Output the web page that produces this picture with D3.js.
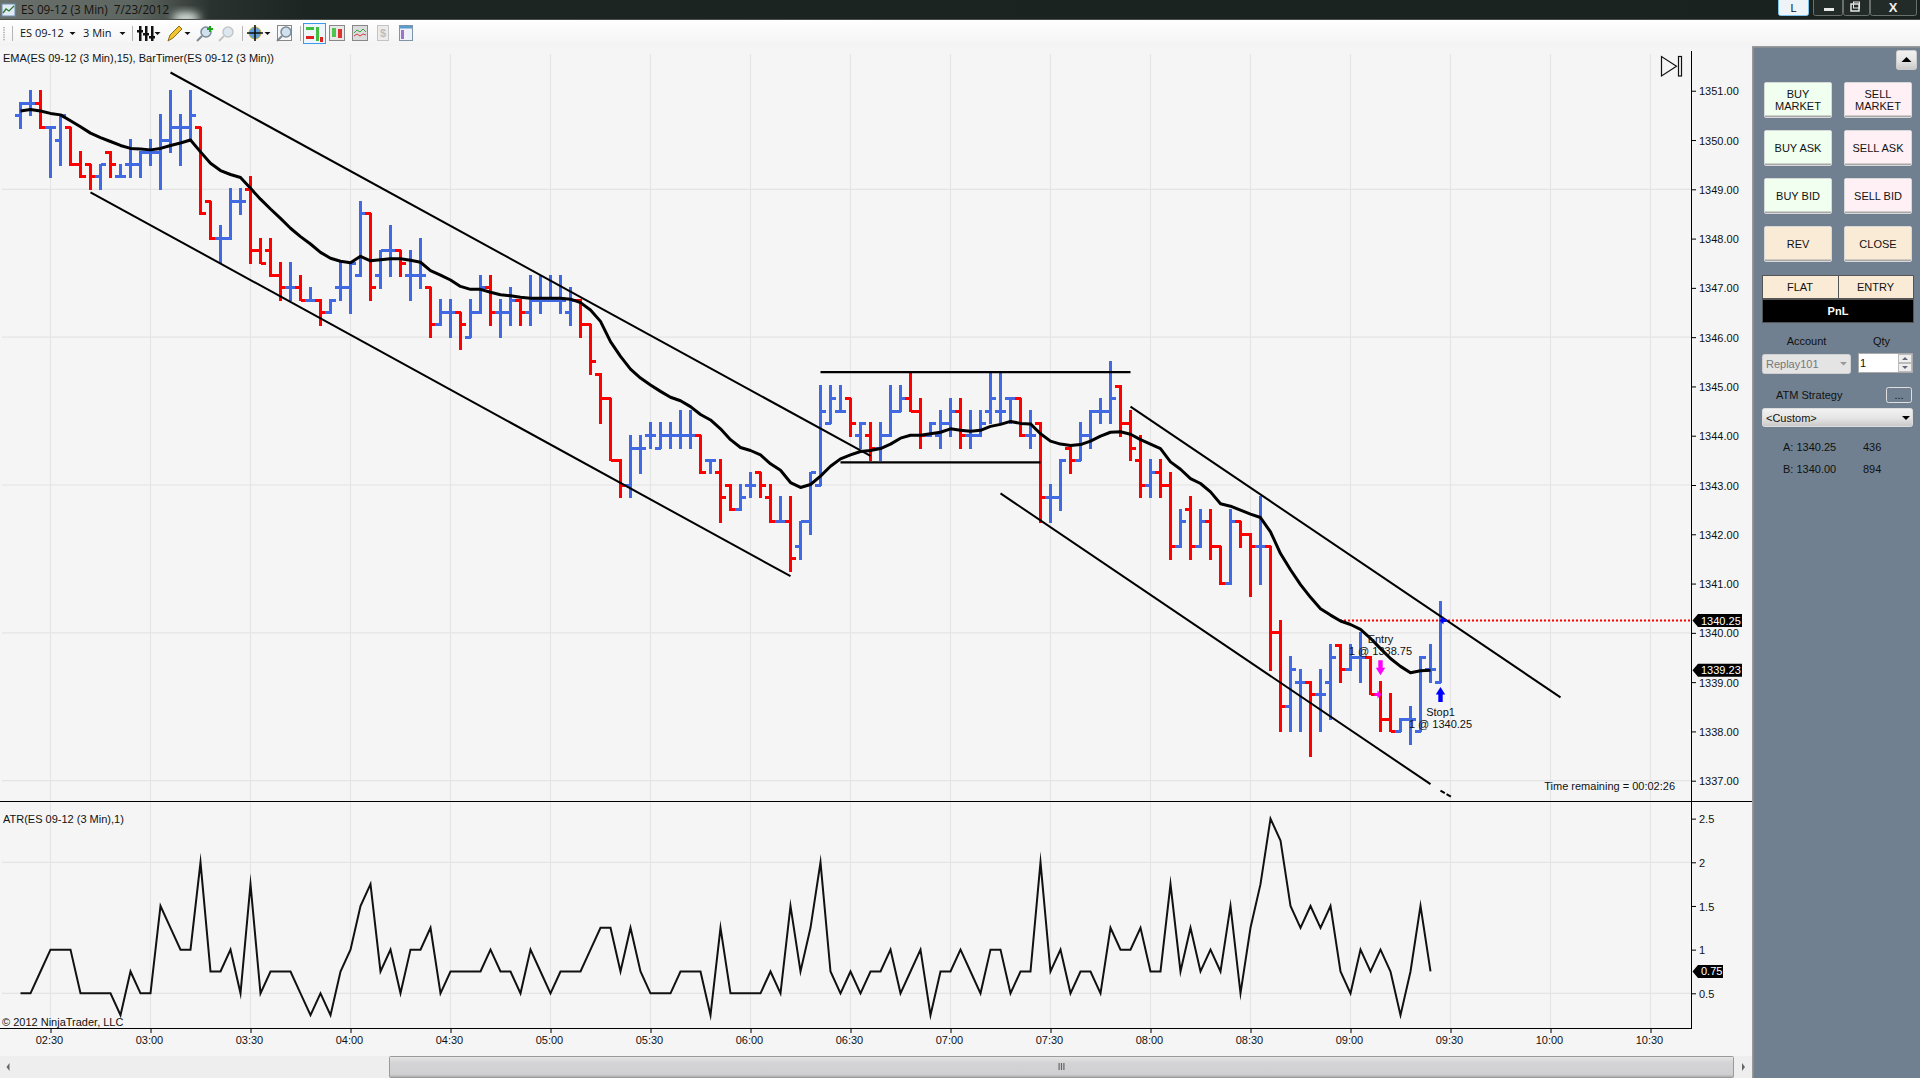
<!DOCTYPE html>
<html>
<head>
<meta charset="utf-8">
<title>ES 09-12 (3 Min)</title>
<script src="https://cdn.jsdelivr.net/npm/d3@7"></script>
<style>
html, body { margin: 0; padding: 0; background: #fff; overflow: hidden; }
svg { display: block; }
text { font-family: "Liberation Sans", Arial, sans-serif; font-size: 11px; fill: #111; }
.tick text { font-family: "Liberation Sans", Arial, sans-serif; font-size: 11px; fill: #111; }
.tick line { stroke: #000; }
</style>
</head>
<body>
<script>
// bars, one per 3 minutes starting 02:21
var opens = [
  1350.5,1350.75,1350.75,1350.25,1350,1350.25,1349.5,1349.5,1349.25,1349.75,
  1349.25,1349.5,1349.5,1349.75,1349.75,1350,1350.25,1350.25,1350.25,1348.75,
  1348,1348,1348.75,1349,1347.75,1347.75,1347.25,1347,1347,1346.75,
  1346.75,1346.5,1347,1347,1347.25,1348.5,1347.25,1347.75,1347.75,1347.25,
  1347.25,1347,1346.25,1346.5,1346.5,1346,1346.5,1347,1346.5,1346.5,
  1346.75,1346.5,1346.75,1346.75,1346.75,1346.5,1346.75,1346.25,1345.25,1344.75,
  1343.5,1343,1343.75,1344,1343.75,1344,1344,1344,1344,1343.5,
  1343.25,1343,1342.5,1343,1343.25,1342.75,1342.25,1342.25,1341.75,1342.25,
  1343,1344.25,1344.5,1344.75,1344,1344,1343.75,1344,1344.5,1344.75,
  1344.5,1344,1344,1344.25,1344.5,1344,1344,1344.5,1344.5,1344.75,
  1344.75,1344,1344.25,1342.75,1342.75,1343.75,1343.5,1344,1344.5,1344.5,
  1345,1344.25,1343.5,1343,1343.25,1343,1341.75,1342.5,1341.75,1342.25,
  1341.75,1341,1342.25,1342,1341.75,1341.75,1340,1338.5,1339,1339,
  1338.75,1339,1339.75,1339.25,1339.5,1339.5,1338.75,1338.25,1338,1338.25,
  1338,1339.25,1339];
var highs = [
  1350.75,1351,1351,1350.25,1350.5,1350.25,1349.75,1349.5,1349.5,1349.75,
  1349.5,1350,1349.75,1350,1350.5,1351,1350.5,1351,1350.25,1348.75,
  1348.25,1349,1349,1349.25,1348,1348,1347.5,1347.5,1347.25,1347,
  1346.75,1346.75,1347.5,1347.5,1348.75,1348.5,1347.75,1348.25,1347.75,1347.75,
  1348,1347,1346.75,1346.75,1346.5,1346.75,1347.25,1347.25,1346.75,1347,
  1346.75,1347.25,1347.25,1347.25,1347.25,1347,1346.75,1346.25,1345.25,1344.75,
  1343.5,1344,1344,1344.25,1344.25,1344.25,1344.5,1344.5,1344,1343.5,
  1343.5,1343,1343,1343.25,1343.25,1343,1342.75,1342.75,1342.25,1343.25,
  1345,1345,1345,1344.75,1344.25,1344.25,1344.25,1345,1345,1345.25,
  1344.75,1344.25,1344.5,1344.75,1344.75,1344.5,1344.5,1345.25,1345.25,1344.75,
  1344.75,1344.5,1344.25,1343,1343.5,1343.75,1344.25,1344.5,1344.75,1345.5,
  1345,1344.5,1344,1343.5,1343.5,1343.25,1342.5,1342.75,1342.5,1342.5,
  1341.75,1342.5,1342.25,1342,1342.75,1341.75,1340.25,1339.5,1339.25,1339,
  1339.25,1339.75,1339.75,1339.75,1340,1339.5,1339,1338.75,1338.25,1338.5,
  1339.5,1339.75,1340.63];
var lows = [
  1350.25,1350.5,1350.25,1349.25,1349.5,1349.5,1349.25,1349,1349,1349.25,
  1349.25,1349.25,1349.25,1349.5,1349,1349.75,1349.5,1350,1348.5,1348,
  1347.5,1348,1348.5,1347.5,1347.5,1347.25,1346.75,1346.75,1346.75,1346.75,
  1346.25,1346.5,1346.75,1346.5,1347.25,1346.75,1347,1347.25,1347.25,1346.75,
  1347,1346,1346.25,1346,1345.75,1346,1346.5,1346.25,1346,1346.25,
  1346.25,1346.25,1346.5,1346.75,1346.5,1346.25,1346,1345.25,1344.25,1343.5,
  1342.75,1342.75,1343.25,1343.75,1343.75,1343.75,1343.75,1343.75,1343.25,1343.25,
  1342.25,1342.5,1342.5,1342.75,1342.75,1342.25,1342.25,1341.25,1341.5,1342,
  1343,1344.25,1344.5,1344,1343.75,1343.5,1343.5,1344,1344.5,1344.5,
  1343.75,1344,1343.75,1344,1343.75,1343.75,1344,1344.25,1344.25,1344.25,
  1344,1343.75,1342.25,1342.25,1342.5,1343.25,1343.5,1343.75,1344.25,1344.25,
  1344,1343.5,1342.75,1342.75,1342.75,1341.5,1341.75,1341.5,1341.75,1341.5,
  1341,1341,1341.75,1340.75,1341,1339.25,1338,1338,1338,1337.5,
  1338,1338.25,1339,1339.25,1339,1338.75,1338,1338,1338,1337.75,
  1338,1339,1339];
var closes = [
  1350.75,1350.75,1350.25,1350.25,1350.5,1349.5,1349.25,1349.25,1349.5,1349.5,
  1349.25,1349.5,1349.75,1349.75,1350,1350.25,1350.25,1350.5,1348.5,1348,
  1348,1348.75,1348.75,1347.75,1347.5,1347.25,1347,1347,1346.75,1346.75,
  1346.5,1346.75,1347,1347.5,1348.5,1347,1347.75,1347.75,1347.5,1347.25,
  1347.25,1346.25,1346.5,1346.5,1346.25,1346.5,1347,1346.5,1346.5,1346.75,
  1346.5,1346.75,1346.75,1346.75,1346.75,1346.75,1346.25,1345.5,1344.75,1343.5,
  1343,1343.75,1343.75,1344,1344,1344,1344,1344,1343.25,1343.5,
  1342.75,1342.5,1342.75,1343,1343,1342.25,1342.25,1341.5,1342.25,1343.25,
  1344.5,1344.75,1344.5,1344.25,1344.25,1343.75,1344,1344.5,1344.75,1344.5,
  1344,1344.25,1344.25,1344.5,1344,1344,1344.25,1344.75,1344.5,1344.75,
  1344,1344,1342.75,1342.75,1343.5,1343.5,1344,1344.5,1344.5,1344.75,
  1344.25,1343.75,1343,1343.25,1343,1341.75,1342.25,1341.75,1342.25,1341.75,
  1341,1342.25,1342,1341.75,1341.75,1340,1338.5,1339.25,1339,1338.75,
  1338.75,1339.5,1339.25,1339.5,1339.5,1338.75,1338.25,1338,1338.25,1338.25,
  1339.5,1339.25,1340.25];
var emaValues = [
  1350.59,1350.62,1350.59,1350.54,1350.51,1350.39,1350.27,1350.14,1350.05,1349.97,
  1349.89,1349.83,1349.82,1349.8,1349.83,1349.89,1349.94,1350,1349.76,1349.53,
  1349.38,1349.3,1349.24,1349.02,1348.8,1348.6,1348.41,1348.21,1348.04,1347.89,
  1347.72,1347.6,1347.54,1347.51,1347.64,1347.55,1347.57,1347.59,1347.59,1347.56,
  1347.52,1347.35,1347.26,1347.16,1347.03,1346.97,1346.97,1346.91,1346.86,1346.84,
  1346.81,1346.79,1346.79,1346.79,1346.79,1346.77,1346.7,1346.55,1346.32,1345.91,
  1345.61,1345.35,1345.17,1345.03,1344.9,1344.78,1344.71,1344.59,1344.43,1344.32,
  1344.14,1343.92,1343.76,1343.7,1343.61,1343.43,1343.3,1343.05,1342.95,1343.01,
  1343.18,1343.38,1343.53,1343.61,1343.68,1343.7,1343.74,1343.83,1343.95,1344.01,
  1344.01,1344.04,1344.07,1344.14,1344.11,1344.09,1344.11,1344.19,1344.23,1344.29,
  1344.25,1344.24,1344.04,1343.89,1343.83,1343.8,1343.82,1343.89,1343.99,1344.07,
  1344.08,1344.03,1343.92,1343.83,1343.74,1343.47,1343.32,1343.13,1343.03,1342.86,
  1342.62,1342.57,1342.49,1342.41,1342.34,1342.05,1341.61,1341.28,1340.98,1340.72,
  1340.49,1340.36,1340.24,1340.17,1340.07,1339.89,1339.68,1339.48,1339.32,1339.19,
  1339.23,1339.24];
var atrValues = [
  .5,.5,.75,1,1,1,.5,.5,.5,.5,
  .25,.75,.5,.5,1.5,1.25,1,1,2,.75,
  .75,1,.5,1.75,.5,.75,.75,.75,.5,.25,
  .5,.25,.75,1,1.5,1.75,.75,1,.5,1,
  1,1.25,.5,.75,.75,.75,.75,1,.75,.75,
  .5,1,.75,.5,.75,.75,.75,1,1.25,1.25,
  .75,1.25,.75,.5,.5,.5,.75,.75,.75,.25,
  1.25,.5,.5,.5,.5,.75,.5,1.5,.75,1.25,
  2,.75,.5,.75,.5,.75,.75,1,.5,.75,
  1,.25,.75,.75,1,.75,.5,1,1,.5,
  .75,.75,2,.75,1,.5,.75,.75,.5,1.25,
  1,1,1.25,.75,.75,1.75,.75,1.25,.75,1,
  .75,1.5,.5,1.25,1.75,2.5,2.25,1.5,1.25,1.5,
  1.25,1.5,.75,.5,1,.75,1,.75,.25,.75,
  1.5,.75];

var timeLabels = ["02:30","03:00","03:30","04:00","04:30","05:00","05:30","06:00","06:30",
                  "07:00","07:30","08:00","08:30","09:00","09:30","10:00","10:30"];
var priceTicks = [1351,1350,1349,1348,1347,1346,1345,1344,1343,1342,1341,1340,1339,1338,1337];
var priceGrid = [1349,1346,1343,1340,1337];
var atrTicks = [2.5,2,1.5,1,.5];
var atrGrid = [2,.5];

// hand drawn lines on the chart: [bar, price, bar, price]
var channelLines = [
  [15,1351.37,85,1343.59],
  [7,1348.94,77,1341.15],
  [111,1344.59,154,1338.69],
  [98,1342.83,141,1336.93]
];
var rangeLines = [
  [80,1345.29,111,1345.29],
  [82,1343.46,102,1343.46]
];
var stubLine = [142,1336.8,143.1,1336.67];

var buttonRows = [
  {a:"BUY|MARKET", b:"SELL|MARKET", ca:"#f0fff0", cb:"#fff0f5"},
  {a:"BUY ASK", b:"SELL ASK", ca:"#f0fff0", cb:"#fff0f5"},
  {a:"BUY BID", b:"SELL BID", ca:"#f0fff0", cb:"#fff0f5"},
  {a:"REV", b:"CLOSE", ca:"#faebd7", cb:"#faebd7"}
];

var W = 1920, H = 1080;
var axisX = 1691, panelX = 1752;
var priceBottom = 801, atrBottom = 1028;

var x = d3.scaleLinear().domain([0, 142]).range([20.5, 1440.5]);
var y = d3.scaleLinear().domain([1349, 1337]).range([189.3, 780.7]);
var yAtr = d3.scaleLinear().domain([.5, 2]).range([993.3, 862.3]);
var barOfTime = t => { var p = t.split(":"); return (+p[0] * 60 + +p[1] - 141) / 3; };

var svg = d3.select("body").append("svg").attr("width", W).attr("height", H);
var defs = svg.append("defs");

function vgrad(id, stops) {
  var g = defs.append("linearGradient").attr("id", id).attr("x1", 0).attr("y1", 0).attr("x2", 0).attr("y2", 1);
  stops.forEach(s => g.append("stop").attr("offset", s[0]).attr("stop-color", s[1]));
}
vgrad("toolbarG", [[0, "#ffffff"], [1, "#f3f3f3"]]);
vgrad("scrollG", [[0, "#e6e6e6"], [.3, "#d4d4d6"], [.85, "#d0d0d2"], [1, "#a8a8a8"]]);
vgrad("comboG", [[0, "#f2f2f2"], [.5, "#e6e6e6"], [1, "#c8c8c8"]]);
var tg = defs.append("linearGradient").attr("id", "titleG");
[[0, "#6a706c"], [.07, "#5e6662"], [.09, "#474e4a"], [.11, "#2a322f"], [.16, "#1d2523"], [1, "#1a2220"]]
  .forEach(s => tg.append("stop").attr("offset", s[0]).attr("stop-color", s[1]));
defs.append("filter").attr("id", "glowBlur").attr("x", "-50%").attr("y", "-50%").attr("width", "200%").attr("height", "200%")
  .append("feGaussianBlur").attr("stdDeviation", 4);
defs.append("clipPath").attr("id", "titleClip").append("rect").attr("width", W).attr("height", 19);

// page background
svg.append("rect").attr("width", W).attr("height", H).attr("fill", "#f5f5f5");

// title bar
svg.append("rect").attr("width", W).attr("height", 19).attr("fill", "url(#titleG)");
svg.append("g").attr("clip-path", "url(#titleClip)").append("ellipse")
  .attr("cx", 186).attr("cy", 18).attr("rx", 14).attr("ry", 6).attr("fill", "#dfe8e2")
  .attr("filter", "url(#glowBlur)");
svg.append("rect").attr("y", 19).attr("width", W).attr("height", 1).attr("fill", "#4a4f4d");
var appIcon = svg.append("g").attr("transform", "translate(2,4)");
appIcon.append("rect").attr("width", 13).attr("height", 12).attr("fill", "#dfeaf5").attr("stroke", "#6f8fb0");
appIcon.append("path").attr("d", "M1 9L4 5L7 7L12 2").attr("fill", "none").attr("stroke", "#2f7a2f").attr("stroke-width", 1.3);
svg.append("text").attr("x", 21).attr("y", 14).attr("xml:space", "preserve")
  .style("font-family", "'Open Sans','Noto Sans',sans-serif").style("font-size", "11.7px").style("fill", "#16120c")
  .text("ES 09-12 (3 Min)  7/23/2012");

var lBtn = svg.append("g");
lBtn.append("rect").attr("x", 1778.5).attr("y", -2).attr("width", 30).attr("height", 17.5).attr("rx", 2)
  .attr("fill", "#eef3f8").attr("stroke", "#7fc4e8");
lBtn.append("text").attr("x", 1793.5).attr("y", 12).attr("text-anchor", "middle").text("L");
[[1813.5, 29], [1843.5, 26], [1870.5, 46]].forEach(b => {
  svg.append("rect").attr("x", b[0]).attr("y", -2).attr("width", b[1]).attr("height", 17.5).attr("rx", 2)
    .attr("fill", "#232b29").attr("stroke", "#6a706e");
});
svg.append("rect").attr("x", 1824).attr("y", 8).attr("width", 10).attr("height", 3).attr("fill", "#e8e8e8");
svg.append("rect").attr("x", 1851).attr("y", 4).attr("width", 8).attr("height", 7).attr("fill", "none").attr("stroke", "#e8e8e8").attr("stroke-width", 1.5);
svg.append("rect").attr("x", 1853.5).attr("y", 2).attr("width", 6).attr("height", 6).attr("fill", "none").attr("stroke", "#e8e8e8");
svg.append("text").attr("x", 1893).attr("y", 12).attr("text-anchor", "middle")
  .style("font-weight", "bold").style("font-size", "13px").style("fill", "#f0f0f0").text("X");

// toolbar
svg.append("rect").attr("y", 20).attr("width", W).attr("height", 26).attr("fill", "url(#toolbarG)");
d3.range(6).forEach(i => svg.append("rect").attr("x", 3).attr("y", 27 + i * 2.4).attr("width", 2).attr("height", 1.3).attr("fill", "#bbb"));
[12, 132, 242, 300].forEach(sx => svg.append("line").attr("x1", sx + .5).attr("x2", sx + .5).attr("y1", 26).attr("y2", 41).attr("stroke", "#b5b5b5"));
function tbText(tx, s) {
  svg.append("text").attr("x", tx).attr("y", 37).style("font-family", "'Open Sans','Noto Sans',sans-serif")
    .style("font-size", "11px").style("fill", "#111").text(s);
}
tbText(20, "ES 09-12");
tbText(83, "3 Min");
[72.5, 122.5, 157.5, 187.5, 267.5].forEach(tx => {
  svg.append("path").attr("d", `M${tx - 3} 32h6l-3 3z`).attr("fill", "#111");
});
// toolbar icons, roughly
[139, 145, 151].forEach((ix, k) => {
  svg.append("rect").attr("x", ix).attr("y", 26).attr("width", 2.5).attr("height", 15).attr("fill", "#111");
  svg.append("rect").attr("x", ix - 2).attr("y", 30 + k * 3).attr("width", 6).attr("height", 2.5).attr("fill", "#111");
});
svg.append("path").attr("d", "M168 41l2-6 9-9 3 3-9 9z").attr("fill", "#f4c430").attr("stroke", "#8a6d1a");
function lens(cx, col, op) {
  var g = svg.append("g").attr("opacity", op);
  g.append("circle").attr("cx", cx).attr("cy", 32).attr("r", 5).attr("fill", "#cfe0ee").attr("stroke", col).attr("stroke-width", 1.5);
  g.append("line").attr("x1", cx - 4).attr("y1", 36).attr("x2", cx - 9).attr("y2", 41).attr("stroke", col).attr("stroke-width", 2);
  return g;
}
lens(206, "#7a8a96", 1);
svg.append("path").attr("d", "M207 29h6M210 26v6").attr("stroke", "#1aa51a").attr("stroke-width", 2);
lens(228, "#b0b0b0", .7);
svg.append("circle").attr("cx", 255).attr("cy", 33).attr("r", 6).attr("fill", "#5f9fd8").attr("stroke", "#c8a83a");
svg.append("path").attr("d", "M255 25v16M247 33h16").attr("stroke", "#111").attr("stroke-width", 1.6).attr("fill", "none");
svg.append("rect").attr("x", 277.5).attr("y", 25.5).attr("width", 14).attr("height", 15).attr("fill", "#f8f8f8").attr("stroke", "#888");
lens(286, "#7a8a96", 1);
svg.append("rect").attr("x", 303.5).attr("y", 23.5).attr("width", 22).attr("height", 20).attr("fill", "#eef6fc").attr("stroke", "#3c9be8");
svg.append("rect").attr("x", 306).attr("y", 27).attr("width", 8).attr("height", 3).attr("fill", "#3fbf3f");
svg.append("rect").attr("x", 306).attr("y", 36).attr("width", 8).attr("height", 3).attr("fill", "#e02020");
svg.append("rect").attr("x", 316).attr("y", 27).attr("width", 3).attr("height", 14).attr("fill", "#3fbf3f");
svg.append("rect").attr("x", 320).attr("y", 37).attr("width", 3).attr("height", 5).attr("fill", "#e02020");
svg.append("rect").attr("x", 329.5).attr("y", 25.5).attr("width", 15).attr("height", 15).attr("fill", "#e8e8e8").attr("stroke", "#888");
svg.append("rect").attr("x", 332).attr("y", 28).attr("width", 4).attr("height", 9).attr("fill", "#4ec34e");
svg.append("rect").attr("x", 338).attr("y", 29).attr("width", 4).attr("height", 9).attr("fill", "#e03030");
svg.append("rect").attr("x", 352.5).attr("y", 25.5).attr("width", 15).attr("height", 15).attr("fill", "#dcdcdc").attr("stroke", "#888");
svg.append("path").attr("d", "M354 33l3-3 3 2 3-3 3 3").attr("fill", "none").attr("stroke", "#3aa53a");
svg.append("path").attr("d", "M354 36l3-2 3 2 3-2 3 1").attr("fill", "none").attr("stroke", "#d04040");
svg.append("rect").attr("x", 377.5).attr("y", 25.5).attr("width", 11).attr("height", 15).attr("fill", "#ececec").attr("stroke", "#c4c4c4");
svg.append("text").attr("x", 383).attr("y", 37).attr("text-anchor", "middle").style("font-weight", "bold").style("fill", "#bdbdbd").text("$");
svg.append("rect").attr("x", 399.5).attr("y", 25.5).attr("width", 13).attr("height", 15).attr("fill", "#eef2f8").attr("stroke", "#8094a8");
svg.append("rect").attr("x", 400).attr("y", 26).attr("width", 12).attr("height", 2.5).attr("fill", "#5a9ad0");
svg.append("rect").attr("x", 401).attr("y", 30).attr("width", 3).attr("height", 9).attr("fill", "#a070d0");

// chart grid
var grid = svg.append("g").attr("stroke", "#e4e4e4").attr("stroke-width", 1.2);
grid.selectAll(".gv").data(timeLabels).enter().append("line").attr("class", "gv")
  .attr("x1", d => x(barOfTime(d))).attr("x2", d => x(barOfTime(d))).attr("y1", 54).attr("y2", atrBottom);
grid.selectAll(".gp").data(priceGrid).enter().append("line").attr("class", "gp")
  .attr("x1", 2).attr("x2", axisX).attr("y1", d => y(d)).attr("y2", d => y(d));
grid.selectAll(".ga").data(atrGrid).enter().append("line").attr("class", "ga")
  .attr("x1", 2).attr("x2", axisX).attr("y1", d => yAtr(d)).attr("y2", d => yAtr(d));

// OHLC bars
var barColor = i => closes[i] < opens[i] ? "#ff0000" : "#4169e1";
var bars = svg.append("g").attr("stroke-width", 3).attr("shape-rendering", "crispEdges").attr("fill", "none");
var bar = bars.selectAll("g").data(d3.range(opens.length)).enter().append("g").attr("stroke", barColor);
bar.append("line").attr("x1", x).attr("x2", x).attr("y1", i => y(highs[i]) - 1).attr("y2", i => y(lows[i]) + 1);
bar.append("line").attr("x1", i => x(i) - 5.5).attr("x2", x).attr("y1", i => y(opens[i])).attr("y2", i => y(opens[i]));
bar.append("line").attr("x1", x).attr("x2", i => x(i) + 5.5).attr("y1", i => y(closes[i])).attr("y2", i => y(closes[i]));

// entry/stop dotted line
svg.append("line").attr("x1", 1340).attr("x2", axisX).attr("y1", y(1340.25)).attr("y2", y(1340.25))
  .attr("stroke", "#ff0000").attr("stroke-width", 2).attr("stroke-dasharray", "2,2");

// EMA
svg.append("path").datum(emaValues)
  .attr("d", d3.line().x((d, i) => x(i)).y(d => y(d)))
  .attr("fill", "none").attr("stroke", "#000").attr("stroke-width", 3).attr("stroke-linejoin", "round");

// drawn lines
var drawn = svg.append("g").attr("stroke", "#000").attr("fill", "none");
drawn.selectAll(".ch").data(channelLines).enter().append("line").attr("class", "ch")
  .attr("x1", d => x(d[0])).attr("y1", d => y(d[1])).attr("x2", d => x(d[2])).attr("y2", d => y(d[3]))
  .attr("stroke-width", 2);
drawn.selectAll(".rg").data(rangeLines).enter().append("line").attr("class", "rg")
  .attr("x1", d => x(d[0])).attr("y1", d => y(d[1])).attr("x2", d => x(d[2])).attr("y2", d => y(d[3]))
  .attr("stroke-width", 2.4);
drawn.append("line").attr("x1", x(stubLine[0])).attr("y1", y(stubLine[1])).attr("x2", x(stubLine[2])).attr("y2", y(stubLine[3]))
  .attr("stroke-width", 2).attr("stroke-dasharray", "5,2");

// order arrows
function vArrow(bx, price, dir, col) {
  var g = svg.append("g").attr("transform", `translate(${x(bx)},${y(price)}) scale(1,${dir})`);
  g.append("path").attr("d", "M-2.2 -7.5H2.2V0H4.7L0 7.5L-4.7 0H-2.2Z").attr("fill", col);
}
vArrow(136, 1339.29, 1, "#ff00ff");
vArrow(142, 1338.75, -1, "#0000ff");
svg.append("path").attr("transform", `translate(${x(135.7)},${y(1338.75)})`).attr("d", "M-3 -1.5H0V-4L4 0L0 4V1.5H-3Z").attr("fill", "#ff00ff");
svg.append("path").attr("transform", `translate(${x(142.3)},${y(1340.25)})`).attr("d", "M3 -1.5H0V-4L-4 0L0 4V1.5H3Z").attr("fill", "#0000ff");

// order labels
[["Entry", 136, 643], ["1 @ 1338.75", 136, 655], ["Stop1", 142, 716], ["1 @ 1340.25", 142, 728]].forEach(t => {
  svg.append("text").attr("x", x(t[1])).attr("y", t[2]).attr("text-anchor", "middle").text(t[0]);
});

// play-to-end glyph
svg.append("path").attr("d", "M1661.5 56.5V76L1676.5 66.3Z").attr("fill", "none").attr("stroke", "#111").attr("stroke-width", 1.2);
svg.append("rect").attr("x", 1678.5).attr("y", 56.5).attr("width", 3).attr("height", 19.5).attr("fill", "none").attr("stroke", "#111").attr("stroke-width", 1.2);

// ATR line
svg.append("path").datum(atrValues)
  .attr("d", d3.line().x((d, i) => x(i)).y(d => yAtr(d)))
  .attr("fill", "none").attr("stroke", "#111").attr("stroke-width", 2)
  .attr("stroke-linejoin", "miter").attr("stroke-miterlimit", 30);

// chart labels
svg.append("text").attr("x", 3).attr("y", 62).text("EMA(ES 09-12 (3 Min),15), BarTimer(ES 09-12 (3 Min))");
svg.append("text").attr("x", 3).attr("y", 823).text("ATR(ES 09-12 (3 Min),1)");
svg.append("text").attr("x", 2).attr("y", 1026).text("\u00a9 2012 NinjaTrader, LLC");
svg.append("text").attr("x", 1675).attr("y", 790).attr("text-anchor", "end").text("Time remaining = 00:02:26");

// axes
var priceAxis = d3.axisRight(y).tickValues(priceTicks).tickFormat(d3.format(".2f")).tickSize(5).tickPadding(3);
var ax1 = svg.append("g").attr("transform", `translate(${axisX},0)`).call(priceAxis);
ax1.select(".domain").remove();
ax1.selectAll(".tick text").attr("y", .6);
var atrAxis = d3.axisRight(yAtr).tickValues(atrTicks).tickFormat(d3.format("")).tickSize(5).tickPadding(3);
var ax2 = svg.append("g").attr("transform", `translate(${axisX},0)`).call(atrAxis);
ax2.select(".domain").remove();
ax2.selectAll(".tick text").attr("y", .8);
var timeAxis = d3.axisBottom(x).tickValues(timeLabels.map(barOfTime))
  .tickFormat((d, i) => timeLabels[i]).tickSize(5).tickPadding(3);
var ax3 = svg.append("g").attr("transform", `translate(0,${atrBottom})`).call(timeAxis);
ax3.select(".domain").remove();
ax3.selectAll(".tick text").attr("x", -1.6);

svg.append("line").attr("x1", axisX + .5).attr("x2", axisX + .5).attr("y1", 51).attr("y2", atrBottom).attr("stroke", "#000");
svg.append("line").attr("x1", 0).attr("x2", panelX).attr("y1", priceBottom + .5).attr("y2", priceBottom + .5).attr("stroke", "#000");
svg.append("line").attr("x1", 0).attr("x2", axisX + 1).attr("y1", atrBottom + .5).attr("y2", atrBottom + .5).attr("stroke", "#000");

// value flags on the axes
function flag(value, scale, label, right) {
  var cy = scale(value);
  svg.append("path")
    .attr("d", `M1692.5 ${cy}L1698 ${cy - 6.5}H${right}V${cy + 6.5}H1698Z`).attr("fill", "#000");
  svg.append("text").attr("x", 1701).attr("y", cy + 4).style("fill", "#fff").text(label);
}
flag(1340.25, y, "1340.25", 1742);
flag(emaValues[emaValues.length - 1], y, "1339.23", 1742);
flag(atrValues[atrValues.length - 1], yAtr, "0.75", 1723);

// scrollbar
svg.append("rect").attr("y", 1056).attr("width", panelX).attr("height", 22).attr("fill", "#eeeeee");
svg.append("rect").attr("x", 389.5).attr("y", 1056.5).attr("width", 1344).attr("height", 21).attr("rx", 1)
  .attr("fill", "url(#scrollG)").attr("stroke", "#9a9a9a");
svg.append("path").attr("d", "M9.5 1063v8l-3-4z").attr("fill", "#666");
svg.append("path").attr("d", "M1742 1063v8l3-4z").attr("fill", "#666");
[0, 2.4, 4.8].forEach(d => svg.append("rect").attr("x", 1058.5 + d).attr("y", 1063).attr("width", 1.2).attr("height", 7).attr("fill", "#666"));
svg.append("rect").attr("y", 1078).attr("width", W).attr("height", 2).attr("fill", "#ffffff");

// order panel
svg.append("rect").attr("x", panelX).attr("y", 47).attr("width", W - panelX).attr("height", 1031)
  .attr("fill", "#708090");
svg.append("rect").attr("x", panelX).attr("y", 46).attr("width", W - panelX).attr("height", 1.5).attr("fill", "#9a9a9a");
svg.append("rect").attr("x", panelX).attr("y", 46).attr("width", 1.5).attr("height", 1032).attr("fill", "#9a9a9a");
svg.append("rect").attr("x", 1896.5).attr("y", 50.5).attr("width", 20).attr("height", 19).attr("rx", 2)
  .attr("fill", "url(#comboG)").attr("stroke", "#ccc");
svg.append("path").attr("d", "M1901.5 62l5-5 5 5z").attr("fill", "#000");

function panelButton(bx, by, label, col) {
  svg.append("rect").attr("x", bx + .5).attr("y", by + .5).attr("width", 67).attr("height", 35).attr("rx", 1.5)
    .attr("fill", col).attr("stroke", "#d8d8d8");
  svg.append("rect").attr("x", bx + 1).attr("y", by + 33.5).attr("width", 66).attr("height", 1.5).attr("fill", "#a8a8a8");
  var parts = label.split("|");
  parts.forEach((p, k) => {
    svg.append("text").attr("x", bx + 34).attr("y", by + 22 + (k - (parts.length - 1) / 2) * 12)
      .attr("text-anchor", "middle").style("fill", "#111").text(p);
  });
}
buttonRows.forEach((r, k) => {
  panelButton(1764, 82 + k * 48, r.a, r.ca);
  panelButton(1844, 82 + k * 48, r.b, r.cb);
});

svg.append("rect").attr("x", 1762.5).attr("y", 275.5).attr("width", 76).attr("height", 23).attr("fill", "#faebd7").attr("stroke", "#555");
svg.append("rect").attr("x", 1838.5).attr("y", 275.5).attr("width", 75).attr("height", 23).attr("fill", "#faebd7").attr("stroke", "#555");
svg.append("text").attr("x", 1800).attr("y", 291).attr("text-anchor", "middle").text("FLAT");
svg.append("text").attr("x", 1875.5).attr("y", 291).attr("text-anchor", "middle").text("ENTRY");
svg.append("rect").attr("x", 1762.5).attr("y", 299.5).attr("width", 151).attr("height", 23).attr("fill", "#000").attr("stroke", "#555");
svg.append("text").attr("x", 1838).attr("y", 315).attr("text-anchor", "middle")
  .style("fill", "#fff").style("font-weight", "bold").text("PnL");

svg.append("text").attr("x", 1806.5).attr("y", 345).attr("text-anchor", "middle").text("Account");
svg.append("text").attr("x", 1881.5).attr("y", 345).attr("text-anchor", "middle").text("Qty");
svg.append("rect").attr("x", 1762.5).attr("y", 354.5).attr("width", 88).attr("height", 19).attr("rx", 2).attr("fill", "#e4e4e4").attr("stroke", "#cfcfcf");
svg.append("text").attr("x", 1766).attr("y", 368).style("fill", "#777").text("Replay101");
svg.append("path").attr("d", "M1840 362h7l-3.5 3.5z").attr("fill", "#999");
svg.append("rect").attr("x", 1858.5).attr("y", 353.5).attr("width", 54).attr("height", 19).attr("fill", "#fff").attr("stroke", "#aaa");
svg.append("text").attr("x", 1860).attr("y", 367).text("1");
svg.append("rect").attr("x", 1898.5).attr("y", 354.5).attr("width", 13).attr("height", 8).attr("fill", "#eee").attr("stroke", "#bbb");
svg.append("rect").attr("x", 1898.5).attr("y", 363.5).attr("width", 13).attr("height", 8).attr("fill", "#eee").attr("stroke", "#bbb");
svg.append("path").attr("d", "M1902 360l3-3 3 3z").attr("fill", "#667");
svg.append("path").attr("d", "M1902 366l3 3 3-3z").attr("fill", "#667");

svg.append("text").attr("x", 1776).attr("y", 399).text("ATM Strategy");
svg.append("rect").attr("x", 1886.5).attr("y", 387.5).attr("width", 25).attr("height", 15).attr("rx", 2).attr("fill", "#708090").attr("stroke", "#e0e0e0");
svg.append("text").attr("x", 1899).attr("y", 399).attr("text-anchor", "middle").text("...");
svg.append("rect").attr("x", 1762.5).attr("y", 408.5).attr("width", 150).attr("height", 18).attr("rx", 2).attr("fill", "url(#comboG)").attr("stroke", "#ddd");
svg.append("text").attr("x", 1766).attr("y", 422).text("<Custom>");
svg.append("path").attr("d", "M1902 416h8l-4 4z").attr("fill", "#000");
svg.append("text").attr("x", 1783).attr("y", 451).text("A: 1340.25");
svg.append("text").attr("x", 1863).attr("y", 451).text("436");
svg.append("text").attr("x", 1783).attr("y", 473).text("B: 1340.00");
svg.append("text").attr("x", 1863).attr("y", 473).text("894");
</script>
</body>
</html>
